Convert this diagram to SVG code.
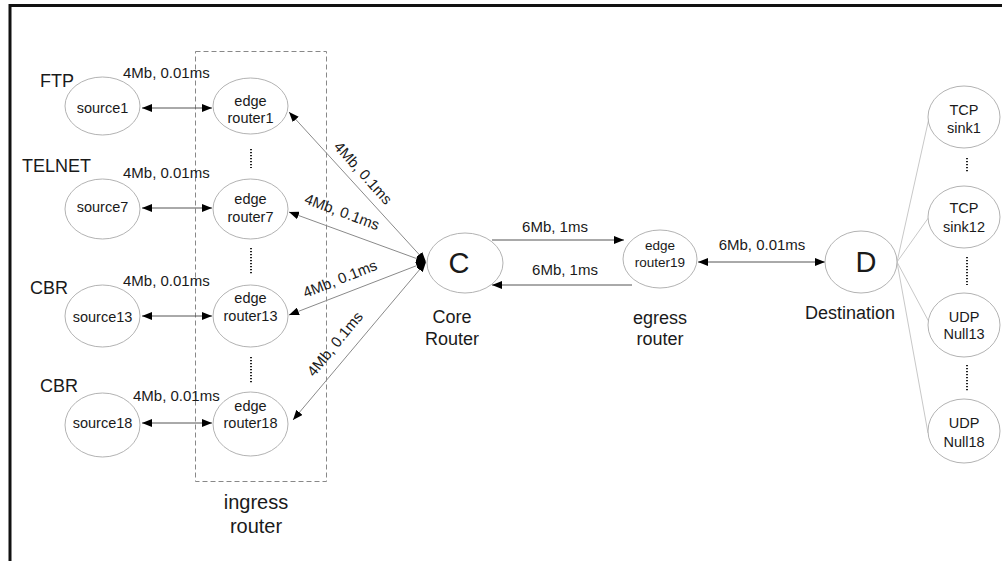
<svg xmlns="http://www.w3.org/2000/svg" width="1002" height="561" viewBox="0 0 1002 561">
<defs>
<marker id="ah" markerUnits="userSpaceOnUse" markerWidth="11" markerHeight="8" refX="10" refY="4" orient="auto-start-reverse"><path d="M0,0 L10,4 L0,8 z" fill="#000"/></marker>
<style>
text{font-family:"Liberation Sans",Arial,sans-serif;fill:#1a1a1a}
.n ellipse{fill:#fff;stroke:#b3b3b3;stroke-width:1}
.n text{font-size:14.5px;text-anchor:middle}
.n text.big{font-size:29px}
.n text.sm{font-size:13.5px}
.lbl{font-size:15px}
.cap{font-size:18px}
.ml{font-size:15px;text-anchor:middle}
.dots{stroke:#222;stroke-width:2;stroke-dasharray:1.2,1.8}
.ar{stroke:#555;stroke-width:1;fill:none;marker-start:url(#ah);marker-end:url(#ah)}
.ar1{stroke:#555;stroke-width:1;fill:none;marker-end:url(#ah)}
.dg{stroke:#8a8a8a;stroke-width:1;fill:none;marker-start:url(#ah);marker-end:url(#ah)}
.sk{stroke:#c8c8c8;stroke-width:1;fill:none}
</style>
</defs>
<rect x="0" y="0" width="1002" height="561" fill="#fff"/>
<rect x="10" y="5.5" width="1000" height="600" fill="none" stroke="#111" stroke-width="3"/>
<rect x="195.5" y="51.5" width="131" height="430" fill="none" stroke="#888" stroke-dasharray="5,3"/>
<g id="connectors">
<line class="ar" x1="142" y1="108" x2="212" y2="108"/>
<line class="ar" x1="142" y1="208" x2="212" y2="208"/>
<line class="ar" x1="142" y1="316" x2="212" y2="316"/>
<line class="ar" x1="142" y1="423" x2="212" y2="423"/>
<line class="dg" x1="426" y1="262" x2="289" y2="112"/>
<line class="dg" x1="426" y1="262" x2="289" y2="212"/>
<line class="dg" x1="426" y1="262" x2="289" y2="315"/>
<line class="dg" x1="426" y1="262" x2="293" y2="420"/>
<line class="ar1" x1="492" y1="240" x2="624" y2="240"/>
<line class="ar1" x1="632" y1="285" x2="492" y2="285"/>
<line class="ar" x1="698" y1="262" x2="825" y2="262"/>
<line class="sk" x1="897" y1="262" x2="929" y2="118"/>
<line class="sk" x1="897" y1="262" x2="929" y2="217"/>
<line class="sk" x1="897" y1="262" x2="929" y2="322"/>
<line class="sk" x1="897" y1="262" x2="928" y2="433"/>
<line class="dots" x1="251" y1="149" x2="251" y2="168"/>
<line class="dots" x1="251" y1="248" x2="251" y2="275"/>
<line class="dots" x1="251" y1="357" x2="251" y2="383"/>
<line class="dots" x1="967" y1="158" x2="967" y2="173"/>
<line class="dots" x1="967" y1="257" x2="967" y2="285"/>
<line class="dots" x1="967" y1="365" x2="967" y2="392"/>
</g>
<g id="labels">
<text class="cap" x="40" y="87">FTP</text>
<text class="cap" x="22" y="172">TELNET</text>
<text class="cap" x="30" y="294">CBR</text>
<text class="cap" x="40" y="392">CBR</text>
<text class="lbl" x="123" y="78">4Mb, 0.01ms</text>
<text class="lbl" x="123" y="178">4Mb, 0.01ms</text>
<text class="lbl" x="123" y="286">4Mb, 0.01ms</text>
<text class="lbl" x="133" y="401">4Mb, 0.01ms</text>
<text class="ml" transform="translate(363,173) rotate(48)" y="5">4Mb, 0.1ms</text>
<text class="ml" transform="translate(342,212) rotate(20.5)" y="5">4Mb, 0.1ms</text>
<text class="ml" transform="translate(340,279) rotate(-21.6)" y="5">4Mb, 0.1ms</text>
<text class="ml" transform="translate(335,344) rotate(-50.6)" y="5">4Mb, 0.1ms</text>
<text class="ml" x="555" y="232">6Mb, 1ms</text>
<text class="ml" x="565" y="275">6Mb, 1ms</text>
<text class="ml" x="762" y="250">6Mb, 0.01ms</text>
<text class="cap" x="256" y="509" text-anchor="middle" style="font-size:20px">ingress</text>
<text class="cap" x="256" y="533" text-anchor="middle" style="font-size:20px">router</text>
<text class="cap" x="452" y="323" text-anchor="middle">Core</text>
<text class="cap" x="452" y="345" text-anchor="middle">Router</text>
<text class="cap" x="660" y="324" text-anchor="middle">egress</text>
<text class="cap" x="660" y="345" text-anchor="middle">router</text>
<text class="cap" x="850" y="319" text-anchor="middle">Destination</text>
</g>
<g id="source1" class="n"><ellipse cx="102.5" cy="106" rx="37.5" ry="29"/><text x="102.5" y="113">source1</text></g>
<g id="source7" class="n"><ellipse cx="102.5" cy="209" rx="37.5" ry="30"/><text x="102.5" y="212">source7</text></g>
<g id="source13" class="n"><ellipse cx="102.5" cy="316" rx="37.5" ry="31"/><text x="102.5" y="322">source13</text></g>
<g id="source18" class="n"><ellipse cx="102.5" cy="425" rx="37.5" ry="32"/><text x="102.5" y="428">source18</text></g>
<g id="router1" class="n"><ellipse cx="250.5" cy="106" rx="37.5" ry="28"/><text x="250.5" y="106">edge</text><text x="250.5" y="123">router1</text></g>
<g id="router7" class="n"><ellipse cx="250.5" cy="209" rx="37.5" ry="30"/><text x="250.5" y="204">edge</text><text x="250.5" y="222">router7</text></g>
<g id="router13" class="n"><ellipse cx="250.5" cy="316" rx="37.5" ry="31"/><text x="250.5" y="303">edge</text><text x="250.5" y="321">router13</text></g>
<g id="router18" class="n"><ellipse cx="250.5" cy="424" rx="37.5" ry="32"/><text x="250.5" y="411">edge</text><text x="250.5" y="428">router18</text></g>
<g id="core" class="n"><ellipse cx="465" cy="263" rx="38" ry="30"/><text class="big" x="459" y="273">C</text></g>
<g id="router19" class="n"><ellipse cx="660" cy="259" rx="37" ry="29"/><text class="sm" x="660" y="250">edge</text><text class="sm" x="660" y="267">router19</text></g>
<g id="dest" class="n"><ellipse cx="861" cy="262" rx="36" ry="31"/><text class="big" x="866" y="272">D</text></g>
<g id="sink1" class="n"><ellipse cx="964" cy="117" rx="36" ry="31"/><text x="964" y="115">TCP</text><text x="964" y="133">sink1</text></g>
<g id="sink12" class="n"><ellipse cx="964" cy="217" rx="36" ry="31"/><text x="964" y="213">TCP</text><text x="964" y="232">sink12</text></g>
<g id="null13" class="n"><ellipse cx="964" cy="325" rx="36" ry="32"/><text x="964" y="322">UDP</text><text x="964" y="339">Null13</text></g>
<g id="null18" class="n"><ellipse cx="964" cy="431" rx="36" ry="32"/><text x="964" y="428">UDP</text><text x="964" y="447">Null18</text></g>
</svg>
